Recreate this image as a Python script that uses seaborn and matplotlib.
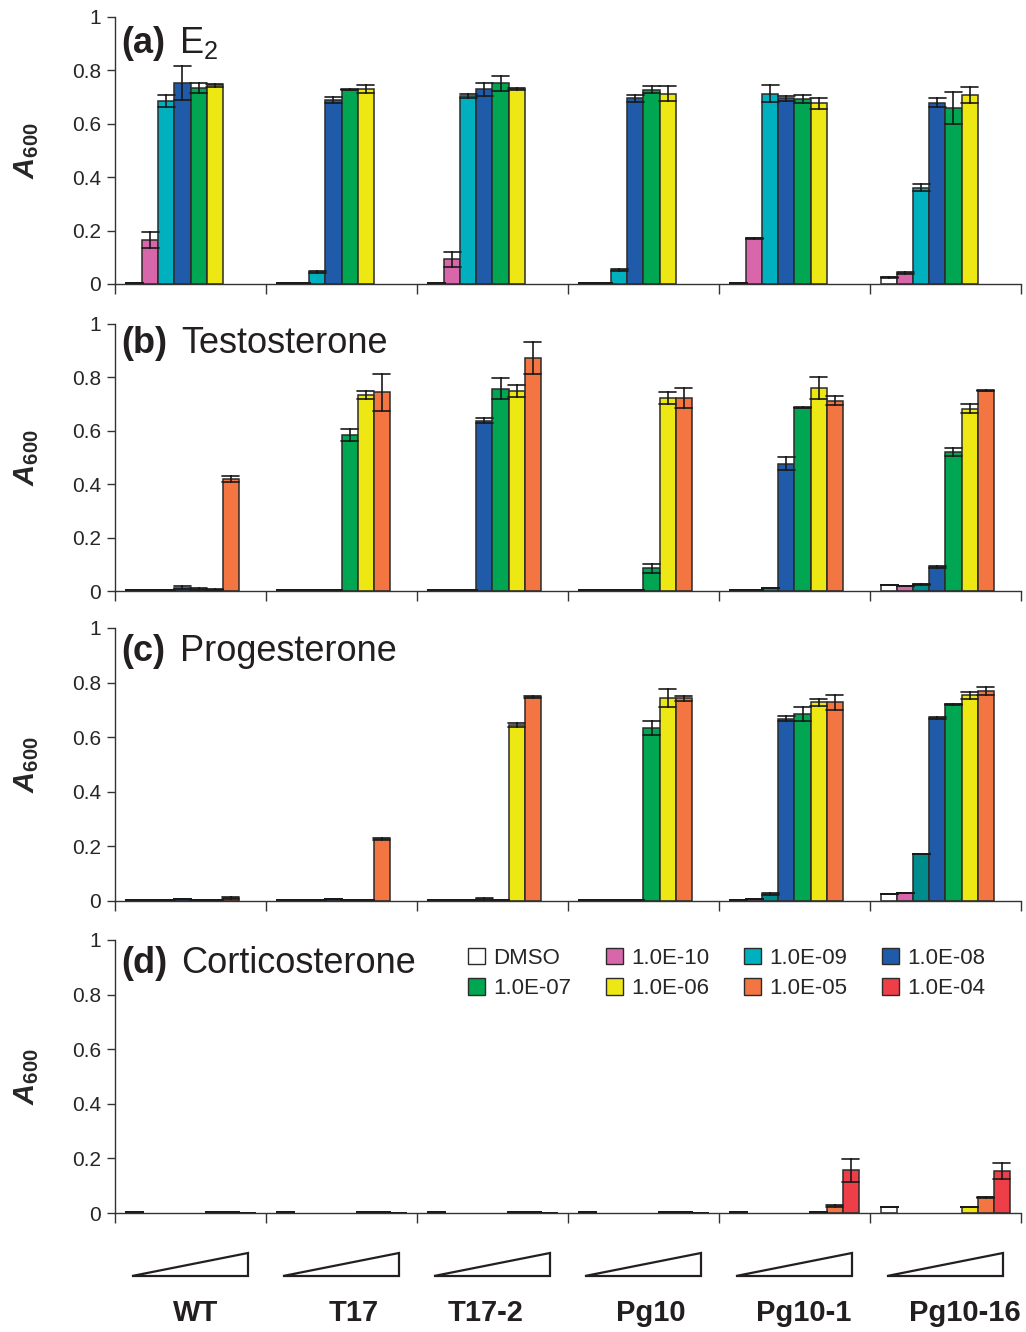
import matplotlib
matplotlib.use("Agg")
import matplotlib.pyplot as plt
import matplotlib.transforms as mtransforms
import numpy as np
import pandas as pd
import seaborn as sns
from matplotlib.patches import Patch, Polygon

STRAINS = ["WT", "T17", "T17-2", "Pg10", "Pg10-1", "Pg10-16"]
CONCS = ["DMSO", "1.0E-10", "1.0E-09", "1.0E-08", "1.0E-07", "1.0E-06", "1.0E-05", "1.0E-04"]
CONC_COLORS = ["#ffffff", "#d767aa", "#00b0bf", "#1f5ba8", "#00a651", "#ede714", "#f37541", "#ee3e47"]
TEAL = "#008b8c"

# mean A600 per strain (rows) and concentration (columns); None = not tested
E2_MEAN = [
    [0.002, 0.165, 0.685, 0.753, 0.734, 0.744, None, None],
    [0.002, 0.002, 0.044, 0.689, 0.728, 0.729, None, None],
    [0.002, 0.092, 0.705, 0.729, 0.751, 0.729, None, None],
    [0.003, 0.003, 0.052, 0.695, 0.728, 0.713, None, None],
    [0.003, 0.171, 0.713, 0.695, 0.694, 0.677, None, None],
    [0.025, 0.042, 0.361, 0.679, 0.658, 0.708, None, None],
]
E2_ERR = [
    [0.0, 0.030, 0.023, 0.063, 0.019, 0.005, None, None],
    [0.0, 0.0, 0.004, 0.012, 0.003, 0.015, None, None],
    [0.0, 0.029, 0.008, 0.025, 0.028, 0.003, None, None],
    [0.0, 0.0, 0.004, 0.012, 0.014, 0.029, None, None],
    [0.0, 0.003, 0.032, 0.009, 0.015, 0.020, None, None],
    [0.002, 0.003, 0.013, 0.018, 0.060, 0.029, None, None],
]

TESTO_MEAN = [
    [0.002, 0.002, 0.003, 0.012, 0.008, 0.004, 0.419, None],
    [0.002, 0.002, 0.003, 0.005, 0.583, 0.734, 0.744, None],
    [0.002, 0.003, 0.005, 0.638, 0.758, 0.750, 0.872, None],
    [0.003, 0.004, 0.004, 0.004, 0.085, 0.723, 0.723, None],
    [0.004, 0.005, 0.010, 0.476, 0.687, 0.759, 0.713, None],
    [0.024, 0.019, 0.026, 0.089, 0.519, 0.683, 0.750, None],
]
TESTO_ERR = [
    [0.0, 0.0, 0.0, 0.006, 0.005, 0.002, 0.010, None],
    [0.0, 0.0, 0.0, 0.0, 0.022, 0.016, 0.069, None],
    [0.0, 0.0, 0.0, 0.009, 0.039, 0.023, 0.061, None],
    [0.0, 0.0, 0.0, 0.0, 0.016, 0.021, 0.036, None],
    [0.0, 0.0, 0.0, 0.024, 0.002, 0.041, 0.018, None],
    [0.0, 0.0, 0.002, 0.003, 0.015, 0.017, 0.002, None],
]

PROG_MEAN = [
    [0.003, 0.003, 0.003, 0.008, 0.002, 0.005, 0.012, None],
    [0.003, 0.003, 0.003, 0.006, 0.002, 0.004, 0.226, None],
    [0.002, 0.003, 0.003, 0.008, 0.002, 0.644, 0.747, None],
    [0.003, 0.005, 0.005, 0.005, 0.633, 0.742, 0.742, None],
    [0.005, 0.007, 0.026, 0.668, 0.684, 0.728, 0.728, None],
    [0.025, 0.028, 0.172, 0.669, 0.720, 0.753, 0.768, None],
]
PROG_ERR = [
    [0.0, 0.0, 0.0, 0.0, 0.0, 0.0, 0.003, None],
    [0.0, 0.0, 0.0, 0.0, 0.0, 0.0, 0.004, None],
    [0.0, 0.0, 0.0, 0.003, 0.0, 0.006, 0.002, None],
    [0.0, 0.0, 0.0, 0.0, 0.026, 0.033, 0.009, None],
    [0.0, 0.0, 0.003, 0.009, 0.025, 0.013, 0.028, None],
    [0.0, 0.0, 0.0, 0.003, 0.002, 0.012, 0.015, None],
]

CORT_MEAN = [
    [0.003, None, None, None, None, 0.003, 0.003, 0.001],
    [0.003, None, None, None, None, 0.003, 0.003, 0.001],
    [0.003, None, None, None, None, 0.003, 0.003, 0.001],
    [0.003, None, None, None, None, 0.003, 0.003, 0.001],
    [0.003, None, None, None, None, 0.003, 0.025, 0.157],
    [0.023, None, None, None, None, 0.022, 0.057, 0.153],
]
CORT_ERR = [
    [0.0, None, None, None, None, 0.0, 0.0, 0.0],
    [0.0, None, None, None, None, 0.0, 0.0, 0.0],
    [0.0, None, None, None, None, 0.0, 0.0, 0.0],
    [0.0, None, None, None, None, 0.0, 0.0, 0.0],
    [0.0, None, None, None, None, 0.0, 0.003, 0.042],
    [0.0, None, None, None, None, 0.0, 0.003, 0.029],
]

PANEL_TAGS = ["(a)", "(b)", "(c)", "(d)"]
PANEL_NAMES = ["E$_2$", "Testosterone", "Progesterone", "Corticosterone"]
PANEL_MEANS = [E2_MEAN, TESTO_MEAN, PROG_MEAN, CORT_MEAN]
PANEL_ERRS = [E2_ERR, TESTO_ERR, PROG_ERR, CORT_ERR]


def long_table(means, errs):
    # two rows per bar (mean - err, mean + err) so seaborn's min/max interval
    # reproduces the published error bars and the mean is the bar height
    rows = []
    for strain, m_row, e_row in zip(STRAINS, means, errs):
        for conc, m, e in zip(CONCS, m_row, e_row):
            if m is None:
                continue
            rows.append({"strain": strain, "conc": conc, "a600": m - e})
            rows.append({"strain": strain, "conc": conc, "a600": m + e})
    return pd.DataFrame(rows)


def panel_palette(idx):
    pal = dict(zip(CONCS, CONC_COLORS))
    if idx in (1, 2):
        pal["1.0E-09"] = TEAL
    return pal


sns.set_theme(style="ticks")
plt.rcParams["font.family"] = ["Liberation Sans", "DejaVu Sans"]
plt.rcParams["mathtext.fontset"] = "custom"
plt.rcParams["mathtext.rm"] = "Liberation Sans"
plt.rcParams["mathtext.it"] = "Liberation Sans:italic"
plt.rcParams["mathtext.bf"] = "Liberation Sans:bold"
plt.rcParams["mathtext.bfit"] = "Liberation Sans:bold:italic"

fig = plt.figure(figsize=(10.26, 13.32), dpi=100)
rects = [
    (0.1121, 0.7868, 0.883, 0.2005),
    (0.1121, 0.5563, 0.883, 0.2005),
    (0.1121, 0.3236, 0.883, 0.2050),
    (0.1121, 0.0893, 0.883, 0.2050),
]
title_y = [0.865, 0.893, 0.877, 0.879]
name_x = [0.0706, 0.0736, 0.0717, 0.073]
axis_color = "#333333"

axes = []
for i, rect in enumerate(rects):
    ax = fig.add_axes(rect)
    axes.append(ax)
    df = long_table(PANEL_MEANS[i], PANEL_ERRS[i])
    sns.barplot(
        data=df, x="strain", y="a600", hue="conc",
        order=STRAINS, hue_order=CONCS, palette=panel_palette(i),
        saturation=1, width=0.85, estimator="mean",
        errorbar=lambda v: (v.min(), v.max()),
        capsize=0.9, err_kws={"color": "#1a1a1a", "linewidth": 1.2},
        edgecolor="#2b2b2b", linewidth=1.1, legend=False, ax=ax,
    )
    ax.set_ylim(0, 1)
    ax.set_xlim(-0.5, len(STRAINS) - 0.5)
    ax.set_yticks(np.arange(0, 1.01, 0.2))
    ax.set_yticklabels(["0", "0.2", "0.4", "0.6", "0.8", "1"])
    ax.set_xticks(np.arange(-0.5, len(STRAINS)))
    ax.set_xticklabels([])
    ax.set_xlabel("")
    ax.set_ylabel(r"$\mathbfit{A}_{\mathbf{600}}$", fontsize=21)
    ax.yaxis.set_label_coords(-0.082, 0.5)
    sns.despine(ax=ax)
    for side in ("left", "bottom"):
        ax.spines[side].set_color(axis_color)
        ax.spines[side].set_linewidth(1.0)
    ax.tick_params(axis="y", length=6, width=1, color=axis_color, labelsize=15, pad=4)
    ax.tick_params(axis="x", length=7, width=1, color=axis_color)
    ax.text(0.0074, title_y[i], PANEL_TAGS[i], transform=ax.transAxes,
            fontsize=26, fontweight="bold", va="baseline", ha="left", color="#231f20")
    ax.text(name_x[i], title_y[i], PANEL_NAMES[i], transform=ax.transAxes,
            fontsize=26, va="baseline", ha="left", color="#231f20")

ax = axes[-1]
handles = [Patch(facecolor=c, edgecolor="#2b2b2b", linewidth=1.0, label=lab)
           for lab, c in zip(CONCS, CONC_COLORS)]
order = [0, 4, 1, 5, 2, 6, 3, 7]
ax.legend([handles[k] for k in order], [CONCS[k] for k in order],
          ncol=4, loc="upper left", bbox_to_anchor=(468 / 1026, 1 - 948 / 1332),
          bbox_transform=fig.transFigure, frameon=False, fontsize=16,
          handlelength=0.75, handleheight=0.75, handletextpad=0.4,
          columnspacing=1.55, labelspacing=0.42, borderpad=0, borderaxespad=0)

# dose wedges and strain names under the last panel
trans = mtransforms.blended_transform_factory(ax.transData, ax.transAxes)
label_shift = [0.036, 0.083, -0.043, 0.05, 0.06, 0.13]
for k, strain in enumerate(STRAINS):
    left, right = k - 0.387, k + 0.381
    tri = Polygon([(left, -0.231), (right, -0.231), (right, -0.1465)], closed=True,
                  facecolor="white", edgecolor="#231f20", linewidth=1.6,
                  transform=trans, clip_on=False)
    ax.add_patch(tri)
    ax.text(k + label_shift[k], -0.366, strain, transform=trans, ha="center", va="center",
            fontsize=21, fontweight="bold", color="#231f20")

fig.savefig("out.png", dpi=100)
